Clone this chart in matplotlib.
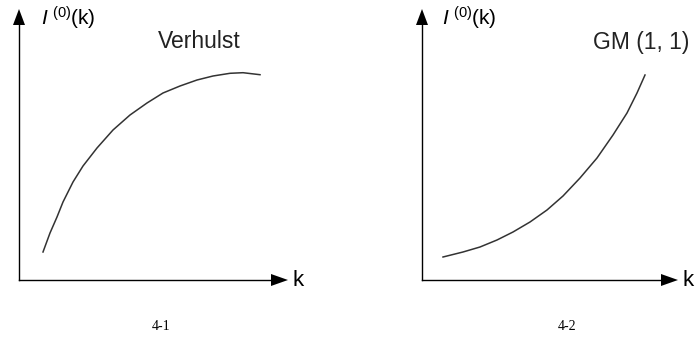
import numpy as np
import matplotlib
matplotlib.use("Agg")
import matplotlib.pyplot as plt

# curve shapes (pixel coords, y downwards)
verhulst_x = [43, 50, 57, 63, 73, 83, 97, 113, 130, 147, 163, 180, 197, 213, 230, 243, 260]
verhulst_y = [252, 233, 217, 202, 182, 166, 148, 130, 115, 103, 93, 86, 80, 76, 73.3, 72.7, 74.7]

gm_x = [443, 463, 480, 497, 513, 530, 547, 563, 580, 597, 613, 627, 637, 645]
gm_y = [257, 252, 247, 240, 232, 222, 210, 196, 178, 158, 135, 113, 93, 75]

panel_names = ["Verhulst", "GM (1, 1)"]
captions = ["4-1", "4-2"]
ylabel = r"$\mathit{I}^{\ (0)}$(k)"
xlabel = "k"

W, H = 697, 340
fig = plt.figure(figsize=(W / 100, H / 100), dpi=100)
ax = fig.add_axes([0, 0, 1, 1])
ax.set_xlim(0, W)
ax.set_ylim(H, 0)
ax.axis("off")

plt.rcParams["mathtext.fontset"] = "custom"
plt.rcParams["mathtext.it"] = "Liberation Sans:italic"
plt.rcParams["mathtext.rm"] = "Liberation Sans"

sans = "Liberation Sans"
serif = "Liberation Serif"


def axes_arrows(x0, y0, xend, ytop):
    ax.plot([x0, x0], [y0, ytop + 14], color="black", lw=1.0)
    ax.plot([x0, xend - 16], [y0, y0], color="black", lw=1.0)
    ax.fill([x0 - 6, x0 + 6, x0], [ytop + 16, ytop + 16, ytop], color="black", lw=0)
    ax.fill([xend - 17, xend - 17, xend], [y0 - 6, y0 + 6, y0], color="black", lw=0)


# left panel
axes_arrows(19, 280, 288, 9)
ax.plot(verhulst_x, verhulst_y, color="#333333", lw=1.1, solid_joinstyle="round")
ax.text(41, 18, ylabel, fontsize=15, family=sans, va="center", ha="left")
ax.text(199, 42, panel_names[0], fontsize=16.5, family=sans, color="#222222",
        ha="center", va="center")
ax.text(293, 281, xlabel, fontsize=16, family=sans, va="center", ha="left")
ax.text(161, 327, captions[0], fontsize=10, family=serif, ha="center", va="center")

# right panel
axes_arrows(422, 280, 678, 9)
ax.plot(gm_x, gm_y, color="#333333", lw=1.1, solid_joinstyle="round")
ax.text(442, 18, ylabel, fontsize=15, family=sans, va="center", ha="left")
ax.text(641, 43, panel_names[1], fontsize=16.5, family=sans, color="#222222",
        ha="center", va="center")
ax.text(682, 281, xlabel, fontsize=16, family=sans, va="center", ha="left")
ax.text(567, 327, captions[1], fontsize=10, family=serif, ha="center", va="center")

fig.savefig("out.png", dpi=100)
